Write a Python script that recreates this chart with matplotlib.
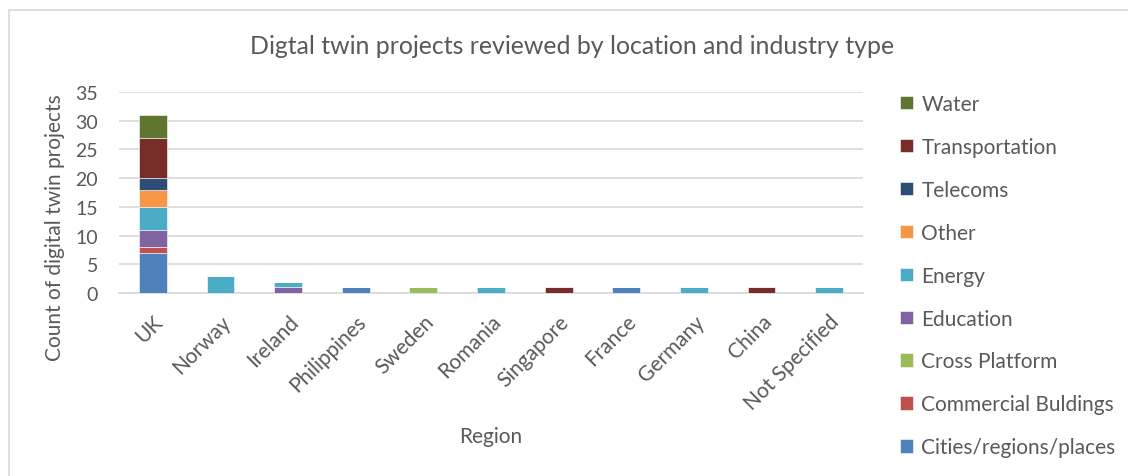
import numpy as np
import matplotlib.pyplot as plt
from matplotlib.patches import Rectangle

plt.rcParams['font.family'] = ['Lato', 'DejaVu Sans']

regions = ['UK', 'Norway', 'Ireland', 'Philippines', 'Sweden', 'Romania',
           'Singapore', 'France', 'Germany', 'China', 'Not Specified']

# project counts per industry, in stacking order (bottom to top)
cities = [7, 0, 0, 1, 0, 0, 0, 1, 0, 0, 0]
commercial = [1, 0, 0, 0, 0, 0, 0, 0, 0, 0, 0]
cross_platform = [0, 0, 0, 0, 1, 0, 0, 0, 0, 0, 0]
education = [3, 0, 1, 0, 0, 0, 0, 0, 0, 0, 0]
energy = [4, 3, 1, 0, 0, 1, 0, 0, 1, 0, 1]
other = [3, 0, 0, 0, 0, 0, 0, 0, 0, 0, 0]
telecoms = [2, 0, 0, 0, 0, 0, 0, 0, 0, 0, 0]
transportation = [7, 0, 0, 0, 0, 0, 1, 0, 0, 1, 0]
water = [4, 0, 0, 0, 0, 0, 0, 0, 0, 0, 0]

series = [
    ('Cities/regions/places', cities, '#4F81BD'),
    ('Commercial Buldings', commercial, '#C0504D'),
    ('Cross Platform', cross_platform, '#9BBB59'),
    ('Education', education, '#8064A2'),
    ('Energy', energy, '#4BACC6'),
    ('Other', other, '#F79646'),
    ('Telecoms', telecoms, '#2C4D75'),
    ('Transportation', transportation, '#772C2A'),
    ('Water', water, '#5F7530'),
]

text_col = '#595959'
grid_col = '#d9d9d9'
W, H = 1128, 477

fig = plt.figure(figsize=(W / 100, H / 100), dpi=100)
ax = fig.add_axes([119 / W, 1 - 294 / H, (863 - 119) / W, (294 - 93) / H])

x = np.arange(len(regions))
bottom = np.zeros(len(regions))
handles = []
for name, vals, col in series:
    vals = np.array(vals, dtype=float)
    b = ax.bar(x, vals, 0.41, bottom=bottom, color=col, edgecolor='white',
               linewidth=0.4, label=name, zorder=3)
    handles.append(b)
    bottom += vals

ax.set_xlim(-0.5, len(regions) - 0.5)
ax.set_ylim(0, 35)
ax.set_yticks(range(0, 36, 5))
ax.yaxis.grid(True, color=grid_col, linewidth=1.2, zorder=0)
for s in ['top', 'right', 'left']:
    ax.spines[s].set_visible(False)
ax.spines['bottom'].set_color(grid_col)
ax.spines['bottom'].set_linewidth(1.2)
ax.tick_params(axis='both', length=0, colors=text_col)
ax.tick_params(axis='y', pad=15, labelsize=14)
ax.set_xticks(x)
ax.set_xticklabels(regions, rotation=45, ha='right', va='top',
                   rotation_mode='anchor')
ax.tick_params(axis='x', pad=13, labelsize=15)

# axis titles
fig.text(491 / W, 1 - 437 / H, 'Region', ha='center', va='center',
         color=text_col, fontsize=15)
fig.text(55 / W, 1 - 228 / H, 'Count of digital twin projects', ha='center',
         va='center', rotation=90, color=text_col, fontsize=15)

fig.text(572 / W, 1 - 47 / H, 'Digtal twin projects reviewed by location and industry type',
         ha='center', va='center', color=text_col, fontsize=17.9)

leg = fig.legend(handles[::-1], [s[0] for s in series][::-1],
                 loc='upper left', bbox_to_anchor=(900 / W, 1 - 95 / H),
                 frameon=False, fontsize=15, labelcolor=text_col,
                 handlelength=0.62, handleheight=0.62, handletextpad=0.4,
                 labelspacing=1.1, borderaxespad=0, borderpad=0)

# thin chart border on the left and top
fig.add_artist(Rectangle((8.5 / W, -0.1), 1.2, 1 - 10.5 / H + 0.1,
                         transform=fig.transFigure, fill=False,
                         edgecolor=grid_col, linewidth=1.2))

fig.savefig('out.png', dpi=100)
